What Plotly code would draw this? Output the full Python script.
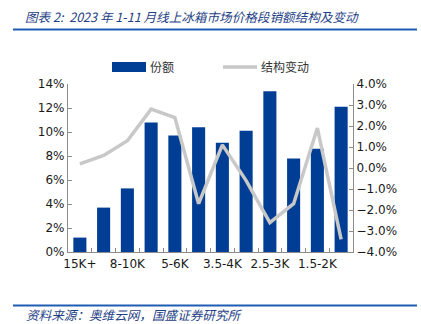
import plotly.graph_objects as go

categories = ["15K+", "10-15K", "8-10K", "6-8K", "5-6K", "4-5K", "3.5-4K",
              "3-3.5K", "2.5-3K", "2-2.5K", "1.5-2K", "1.5K-"]
share = [1.2, 3.7, 5.3, 10.8, 9.7, 10.4, 9.1, 10.1, 13.4, 7.8, 8.6, 12.1]
change = [0.2, 0.6, 1.3, 2.8, 2.4, -1.7, 1.1, -0.6, -2.6, -1.7, 1.9, -3.4]
ticktext = [c if i % 2 == 0 else "" for i, c in enumerate(categories)]

title = "图表 2:  2023 年 1-11 月线上冰箱市场价格段销额结构及变动"
source = "资料来源：奥维云网，国盛证券研究所"
legend_names = ["份额", "结构变动"]

BAR = "#003E95"
LINE = "#C8C8C8"
AX = "#8C8C8C"
FONT = "DejaVu Sans, Noto Sans CJK SC, sans-serif"
CJK = "Noto Sans CJK SC, sans-serif"

fig = go.Figure()
fig.add_trace(go.Bar(x=categories, y=share, marker=dict(color=BAR, line=dict(width=0)),
                     name=legend_names[0], yaxis="y"))
fig.add_trace(go.Scatter(x=categories, y=change, mode="lines", line=dict(color=LINE, width=3.5),
                         name=legend_names[1], yaxis="y2"))

W, H = 421, 324
L, R, T, B = 68, 68, 84, 72

fig.update_layout(
    width=W, height=H, autosize=False,
    margin=dict(l=L, r=R, t=T, b=B),
    paper_bgcolor="white", plot_bgcolor="white",
    showlegend=False, bargap=0.45,
    font=dict(family=FONT, size=12, color="#1a1a1a"),
    xaxis=dict(type="category", tickvals=categories, ticktext=ticktext, tickson="boundaries",
               ticks="inside", ticklen=4, tickcolor=AX, showline=True, linecolor=AX, linewidth=1.2,
               showgrid=False, tickfont=dict(size=12, family=FONT), tickangle=0,
               range=[-0.5, 11.5]),
    yaxis=dict(range=[0, 14], dtick=2, ticksuffix="%", showgrid=False, zeroline=False,
               showline=True, linecolor=AX, linewidth=1.2, ticks="inside", ticklen=4, tickcolor=AX,
               tickfont=dict(size=12, family=FONT)),
    yaxis2=dict(range=[-4, 4], dtick=1, tickformat=".1f", ticksuffix="%", overlaying="y",
                side="right", showgrid=False, zeroline=False, showline=True, linecolor=AX,
                linewidth=1.2, ticks="inside", ticklen=4, tickcolor=AX,
                tickfont=dict(size=12, family=FONT)),
)

shapes = []
annotations = []


def px(x):
    return (x - L) / (W - L - R)


def py(y):
    return (H - B - y) / (H - T - B)


# header / footer rules
for yy in (29.5, 305.5):
    shapes.append(dict(type="line", xref="paper", yref="paper",
                       x0=px(13), x1=px(417), y0=py(yy), y1=py(yy),
                       line=dict(color="#1F5CB4", width=2)))

# legend swatches
shapes.append(dict(type="rect", xref="paper", yref="paper", x0=px(112), x1=px(146),
                   y0=py(72), y1=py(62), fillcolor=BAR, line=dict(width=0)))
shapes.append(dict(type="line", xref="paper", yref="paper", x0=px(223), x1=px(257),
                   y0=py(67), y1=py(67), line=dict(color=LINE, width=3.5)))
annotations.append(dict(text=legend_names[0], xref="paper", yref="paper", x=px(148), y=py(67),
                        xanchor="left", yanchor="middle", showarrow=False,
                        font=dict(family=CJK, size=12, color="#333333")))
annotations.append(dict(text=legend_names[1], xref="paper", yref="paper", x=px(259), y=py(67),
                        xanchor="left", yanchor="middle", showarrow=False,
                        font=dict(family=CJK, size=12, color="#333333")))
annotations.append(dict(text="<i>" + title + "</i>", xref="paper", yref="paper", x=px(23), y=py(16),
                        xanchor="left", yanchor="middle", showarrow=False,
                        font=dict(family=CJK, size=12.6, color="#1F3F86")))
annotations.append(dict(text="<i>" + source + "</i>", xref="paper", yref="paper", x=px(24), y=py(314),
                        xanchor="left", yanchor="middle", showarrow=False,
                        font=dict(family=CJK, size=12.6, color="#1F3F86")))

fig.update_layout(shapes=shapes, annotations=annotations)
fig.write_html("out.html")
